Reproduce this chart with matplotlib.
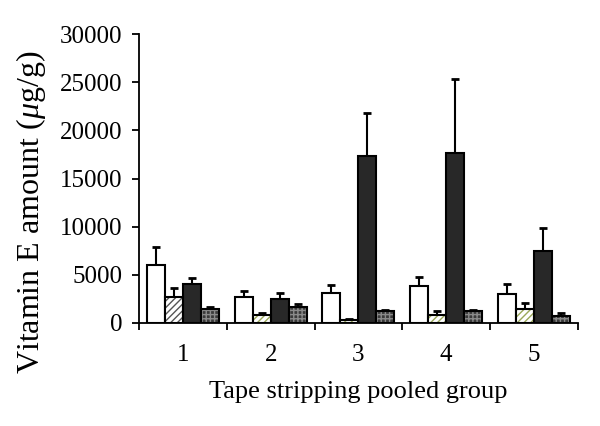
import matplotlib
matplotlib.use("Agg")
import matplotlib.pyplot as plt
import numpy as np

plt.rcParams['font.family'] = ['Liberation Serif', 'DejaVu Serif']
plt.rcParams['mathtext.fontset'] = 'custom'
plt.rcParams['mathtext.rm'] = 'Liberation Serif'
plt.rcParams['mathtext.it'] = 'Liberation Serif:italic'

groups = ['1', '2', '3', '4', '5']
white_vals = [6000, 2750, 3100, 3850, 3050]
white_err = [1850, 600, 850, 950, 1000]
hatch_vals = [2750, 830, 310, 830, 1420]
hatch_err = [850, 170, 110, 420, 620]
black_vals = [4050, 2500, 17350, 17700, 7500]
black_err = [650, 580, 4500, 7600, 2330]
dot_vals = [1450, 1700, 1250, 1250, 760]
dot_err = [180, 270, 100, 130, 240]
yticks = [0, 5000, 10000, 15000, 20000, 25000, 30000]

fig = plt.figure(figsize=(6.0, 4.26), dpi=100)
ax = fig.add_axes([0.2317, 0.2418, 0.7313, 0.6782])

x = np.arange(1, len(groups) + 1)
w = 0.205
offs = [-1.5 * w, -0.5 * w, 0.5 * w, 1.5 * w]
ekw = dict(elinewidth=1.5, capthick=2.0, ecolor='black')

def upper_err(e):
    return [np.zeros(len(e)), e]

# white
ax.bar(x + offs[0], white_vals, w, color='white', edgecolor='black', linewidth=1.5, zorder=2)
ax.errorbar(x + offs[0], white_vals, yerr=upper_err(white_err), fmt='none', capsize=3, zorder=1, **ekw)

# hatched
hcols = ['#555555', '#9aa85a', '#9aa85a', '#9aa85a', '#9aa85a']
for i in range(len(groups)):
    ax.bar(x[i] + offs[1], hatch_vals[i], w, color='white', edgecolor=hcols[i], hatch='/////', linewidth=0, zorder=2)
ax.bar(x + offs[1], hatch_vals, w, color='none', edgecolor='black', linewidth=1.5, zorder=3)
ax.errorbar(x + offs[1], hatch_vals, yerr=upper_err(hatch_err), fmt='none', capsize=3, zorder=1, **ekw)

# black
ax.bar(x + offs[2], black_vals, w, color='#282828', edgecolor='black', linewidth=1.5, zorder=2)
ax.errorbar(x + offs[2], black_vals, yerr=upper_err(black_err), fmt='none', capsize=3, zorder=1, **ekw)

# dotted
ax.bar(x + offs[3], dot_vals, w, color='#3a3a3a', edgecolor='#8a8a8a', hatch='++++', linewidth=0, zorder=2)
ax.bar(x + offs[3], dot_vals, w, color='none', edgecolor='black', linewidth=1.5, zorder=3)
ax.errorbar(x + offs[3], dot_vals, yerr=upper_err(dot_err), fmt='none', capsize=3, zorder=1, **ekw)

ax.set_xlim(0.5, 5.5)
ax.set_ylim(0, 30000)
ax.set_yticks(yticks)
ax.set_yticklabels([str(v) for v in yticks])
ax.set_xticks(x)
ax.set_xticklabels(groups)
ax.set_xticks(np.arange(0.5, 5.6, 1.0), minor=True)
ax.tick_params(axis='x', which='major', length=0, pad=15, labelsize=18)
ax.tick_params(axis='x', which='minor', length=5, width=1.3, direction='out')
ax.tick_params(axis='y', length=5, width=1.3, direction='out', pad=7, labelsize=18)

for s in ['top', 'right']:
    ax.spines[s].set_visible(False)
for s in ['left', 'bottom']:
    ax.spines[s].set_linewidth(1.3)

ax.set_xlabel('Tape stripping pooled group', fontsize=19, labelpad=11)
ax.set_ylabel(r'Vitamin E amount ($\mathit{\mu}$g/g)', fontsize=23)
ax.yaxis.set_label_coords(-0.208, 0.384)

fig.savefig('out.png', dpi=100)
